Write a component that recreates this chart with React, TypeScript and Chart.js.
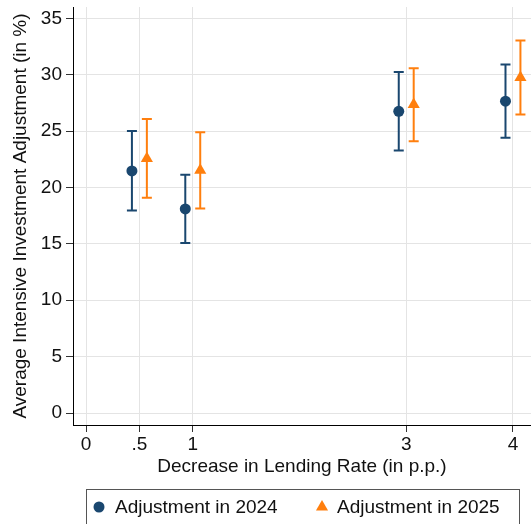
import React, { useEffect, useRef } from "react";
import { Chart, registerables } from "chart.js";

Chart.register(...registerables);

// ---- Data ----
const categories = [0.5, 1, 3, 4]; // decrease in lending rate (p.p.)
const xTicks = [0, 0.5, 1, 3, 4];
const yTicks = [0, 5, 10, 15, 20, 25, 30, 35];

const label2024 = "Adjustment in 2024";
const mean2024 = [21.47, 18.1, 26.75, 27.65];
const low2024 = [17.96, 15.08, 23.27, 24.4];
const high2024 = [25.0, 21.12, 30.23, 30.9];

const label2025 = "Adjustment in 2025";
const mean2025 = [22.57, 21.52, 27.35, 29.75];
const low2025 = [19.08, 18.13, 24.1, 26.47];
const high2025 = [26.06, 24.9, 30.58, 33.04];

const xTitle = "Decrease in Lending Rate (in p.p.)";
const yTitle = "Average Intensive Investment Adjustment (in %)";

// ---- Styles ----
const NAVY = "#1a476f";
const ORANGE = "#ff7f0e";
const FONT = "'Liberation Sans', Arial, sans-serif";
const FS = 19;
const OFFSET = 0.07;

const errorBarPlugin = {
  id: "errorBars",
  afterDatasetsDraw(chart: any) {
    const { ctx, scales } = chart;
    const xs = scales.x;
    const ys = scales.y;
    chart.data.datasets.forEach((ds: any) => {
      ctx.save();
      ctx.strokeStyle = ds.borderColor;
      ctx.lineWidth = 2;
      ds.data.forEach((p: any, i: number) => {
        const px = xs.getPixelForValue(p.x);
        const top = ys.getPixelForValue(ds.high[i]);
        const bot = ys.getPixelForValue(ds.low[i]);
        ctx.beginPath();
        ctx.moveTo(px, top);
        ctx.lineTo(px, bot);
        ctx.moveTo(px - 5, top);
        ctx.lineTo(px + 5, top);
        ctx.moveTo(px - 5, bot);
        ctx.lineTo(px + 5, bot);
        ctx.stroke();
      });
      ctx.restore();
    });
  },
};

const legendPlugin = {
  id: "boxLegend",
  afterDraw(chart: any) {
    const { ctx } = chart;
    ctx.save();
    ctx.strokeStyle = "#555";
    ctx.lineWidth = 1;
    ctx.strokeRect(86.5, 489.5, 433, 50);
    ctx.font = `${FS}px ${FONT}`;
    ctx.textBaseline = "alphabetic";
    ctx.textAlign = "left";
    const items = [
      { x: 99, tx: 115, ds: chart.data.datasets[0] },
      { x: 322, tx: 337, ds: chart.data.datasets[1] },
    ];
    items.forEach((it) => {
      ctx.fillStyle = it.ds.backgroundColor;
      ctx.beginPath();
      if (it.ds.pointStyle === "triangle") {
        const r = 7;
        const cy = 507;
        for (let k = 0; k < 3; k++) {
          const a = (k * 2 * Math.PI) / 3;
          const px = it.x + Math.sin(a) * r;
          const py = cy - Math.cos(a) * r;
          if (k === 0) ctx.moveTo(px, py);
          else ctx.lineTo(px, py);
        }
        ctx.closePath();
      } else {
        ctx.arc(it.x, 507, 5.5, 0, Math.PI * 2);
      }
      ctx.fill();
      ctx.fillStyle = "#111";
      ctx.fillText(it.ds.label, it.tx, 513);
    });
    ctx.restore();
  },
};

const zeroPad = (s: any) => {
  s.paddingTop = 0;
  s.paddingBottom = 0;
  s.paddingLeft = 0;
  s.paddingRight = 0;
};

export default function App() {
  const ref = useRef<HTMLCanvasElement>(null);

  useEffect(() => {
    if (!ref.current) return;
    const chart = new Chart(ref.current, {
      type: "scatter",
      data: {
        datasets: [
          {
            label: label2024,
            data: categories.map((c, i) => ({ x: c - OFFSET, y: mean2024[i] })),
            low: low2024,
            high: high2024,
            pointStyle: "circle",
            pointRadius: 5.5,
            backgroundColor: NAVY,
            borderColor: NAVY,
            borderWidth: 0,
          } as any,
          {
            label: label2025,
            data: categories.map((c, i) => ({ x: c + OFFSET, y: mean2025[i] })),
            low: low2025,
            high: high2025,
            pointStyle: "triangle",
            pointRadius: 7,
            backgroundColor: ORANGE,
            borderColor: ORANGE,
            borderWidth: 0,
          } as any,
        ],
      },
      options: {
        responsive: false,
        animation: false,
        devicePixelRatio: 1,
        layout: { padding: { left: 0, right: 0, top: 7, bottom: 44 } },
        plugins: {
          legend: { display: false },
          tooltip: { enabled: false },
        },
        scales: {
          x: {
            type: "linear",
            min: -0.122,
            max: 4.169,
            afterBuildTicks: (s: any) => {
              s.ticks = xTicks.map((v) => ({ value: v }));
            },
            afterFit: (s: any) => {
              s.height = 55;
              zeroPad(s);
            },
            ticks: {
              autoSkip: false,
              maxRotation: 0,
              padding: 1,
              color: "#111",
              font: { family: FONT, size: FS },
              callback: (v: any) => {
                const n = Number(v);
                return n > 0 && n < 1 ? String(n).replace(/^0/, "") : String(n);
              },
            },
            grid: {
              color: "#e4e4e4",
              lineWidth: 1,
              drawTicks: true,
              tickLength: 7,
              tickColor: "#333",
              tickWidth: 1,
            },
            border: { display: true, color: "#000", width: 1 },
            title: {
              display: true,
              text: xTitle,
              color: "#111",
              font: { family: FONT, size: FS },
              padding: { top: 0, bottom: 2 },
            },
          },
          y: {
            type: "linear",
            min: -1.06,
            max: 36,
            afterBuildTicks: (s: any) => {
              s.ticks = yTicks.map((v) => ({ value: v }));
            },
            afterFit: (s: any) => {
              s.width = 73;
              zeroPad(s);
            },
            ticks: {
              padding: 4,
              color: "#111",
              font: { family: FONT, size: FS },
            },
            grid: {
              color: "#e4e4e4",
              lineWidth: 1,
              drawTicks: true,
              tickLength: 7,
              tickColor: "#333",
              tickWidth: 1,
            },
            border: { display: true, color: "#000", width: 1 },
            title: {
              display: true,
              text: yTitle,
              color: "#111",
              font: { family: FONT, size: FS },
              padding: { top: 9, bottom: 0 },
            },
          },
        },
      },
      plugins: [errorBarPlugin, legendPlugin],
    });
    return () => chart.destroy();
  }, []);

  return (
    <div style={{ position: "absolute", left: 0, top: 0, width: 531, height: 524, background: "#fff", overflow: "hidden" }}>
      <canvas ref={ref} width={538} height={524} style={{ display: "block" }} />
    </div>
  );
}
